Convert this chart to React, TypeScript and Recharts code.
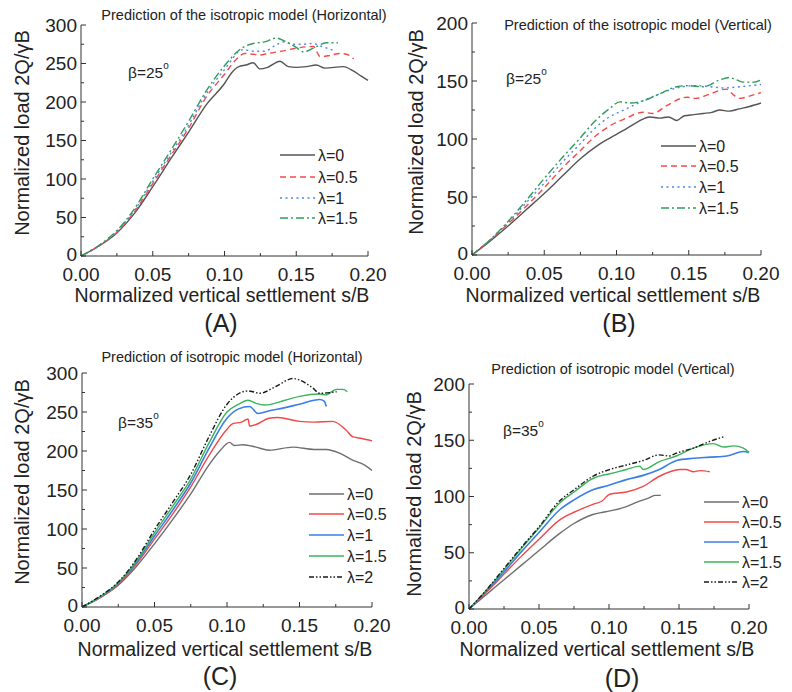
import React from "react";
import { LineChart, Line, XAxis, YAxis } from "recharts";

type Pt = [number, number];

// s/B values on x, normalized load 2Q/γB on y
const X_TICKS = [0, 0.025, 0.05, 0.075, 0.1, 0.125, 0.15, 0.175, 0.2];
const Y_TICKS_300 = [0, 25, 50, 75, 100, 125, 150, 175, 200, 225, 250, 275, 300];
const Y_TICKS_200 = [0, 25, 50, 75, 100, 125, 150, 175, 200];

// (A) horizontal, beta = 25
const A_L0: Pt[] = [[0,0],[0.0125,13],[0.025,30],[0.0375,56],[0.05,90],[0.0625,126],[0.075,161],[0.0875,197],[0.1,224],[0.105,238],[0.11,246],[0.115,248],[0.12,251],[0.1247,243],[0.13,245],[0.1387,253],[0.1445,246],[0.15,245],[0.157,246],[0.164,248],[0.17,244],[0.1828,246],[0.19,240],[0.195,234],[0.2,228]];
const A_L05: Pt[] = [[0,0],[0.0125,13],[0.025,31],[0.0375,58],[0.05,94],[0.0625,130],[0.075,166],[0.0875,207],[0.1,236],[0.108,255],[0.114,263],[0.12,262],[0.1247,261],[0.13,263],[0.14,266],[0.15,270],[0.162,272],[0.1666,259],[0.172,260],[0.1805,263],[0.185,262],[0.19,256]];
const A_L1: Pt[] = [[0,0],[0.0125,13],[0.025,32],[0.0375,60],[0.05,97],[0.0625,133],[0.075,170],[0.0875,211],[0.1,242],[0.113,268],[0.12,266],[0.128,266],[0.135,273],[0.141,278],[0.148,275],[0.155,275],[0.161,276],[0.168,272],[0.176,267]];
const A_L15: Pt[] = [[0,0],[0.0125,14],[0.025,33],[0.0375,62],[0.05,100],[0.0625,137],[0.075,175],[0.0875,215],[0.1,247],[0.112,270],[0.12,276],[0.128,278],[0.136,283],[0.142,279],[0.15,271],[0.155,265],[0.162,270],[0.171,277],[0.179,277]];

// (B) vertical, beta = 25
const B_L0: Pt[] = [[0,0],[0.0125,12],[0.025,25],[0.0375,39],[0.05,53],[0.0625,68],[0.075,83],[0.0875,95],[0.1,104],[0.107,109],[0.115,115],[0.123,119],[0.13,118],[0.136,119],[0.1416,116],[0.147,120],[0.1535,121],[0.16,122],[0.166,123],[0.1716,125],[0.178,124],[0.185,126],[0.192,128],[0.2,131]];
const B_L05: Pt[] = [[0,0],[0.0125,13],[0.025,27],[0.0375,42],[0.05,58],[0.0625,75],[0.075,90],[0.084,101],[0.095,111],[0.105,117],[0.1186,123],[0.125,122],[0.135,129],[0.1486,136],[0.155,135],[0.165,139],[0.176,143],[0.181,138],[0.185,135],[0.192,137],[0.2,140]];
const B_L1: Pt[] = [[0,0],[0.0125,13],[0.025,28],[0.0375,45],[0.05,62],[0.0625,80],[0.075,96],[0.084,108],[0.095,119],[0.105,125],[0.1186,133],[0.13,139],[0.1416,144],[0.1555,146],[0.165,145],[0.175,144],[0.185,145],[0.2,147]];
const B_L15: Pt[] = [[0,0],[0.0125,13],[0.025,29],[0.0375,47],[0.05,66],[0.0625,84],[0.075,101],[0.084,114],[0.095,126],[0.1024,132],[0.11,131],[0.1186,133],[0.13,139],[0.1416,145],[0.15,146],[0.16,145],[0.1716,151],[0.178,153],[0.183,151],[0.188,149],[0.195,149],[0.2,151]];

// (C) horizontal, beta = 35
const C_L0: Pt[] = [[0,0],[0.0125,12],[0.025,28],[0.0375,52],[0.05,81],[0.0625,112],[0.075,145],[0.0875,182],[0.095,200],[0.1018,211],[0.105,207],[0.111,208],[0.12,205],[0.129,201],[0.1455,205],[0.16,202],[0.1685,202],[0.178,197],[0.187,188],[0.195,182],[0.2,175]];
const C_L05: Pt[] = [[0,0],[0.0125,12],[0.025,29],[0.0375,55],[0.05,87],[0.0625,119],[0.075,154],[0.0875,194],[0.1,228],[0.104,235],[0.11,237],[0.1145,241],[0.1156,232],[0.12,234],[0.129,242],[0.135,243],[0.15,238],[0.16,237],[0.173,238],[0.182,227],[0.187,218],[0.193,216],[0.2,213]];
const C_L1: Pt[] = [[0,0],[0.0125,13],[0.025,30],[0.0375,57],[0.05,91],[0.0625,124],[0.075,159],[0.0875,203],[0.1,242],[0.108,254],[0.1156,257],[0.1214,248],[0.13,252],[0.1386,255],[0.15,260],[0.164,266],[0.167,264],[0.1685,257]];
const C_L15: Pt[] = [[0,0],[0.0125,13],[0.025,31],[0.0375,59],[0.05,95],[0.0625,129],[0.075,164],[0.0875,210],[0.1,250],[0.108,260],[0.1145,265],[0.12,261],[0.126,259],[0.14,265],[0.15,270],[0.164,273],[0.168,272],[0.1756,279],[0.18,279],[0.183,276]];
const C_L2: Pt[] = [[0,0],[0.0125,14],[0.025,32],[0.0375,61],[0.05,99],[0.0625,134],[0.075,170],[0.0875,218],[0.1,260],[0.104,268],[0.1145,277],[0.118,276],[0.1225,274],[0.134,283],[0.1455,293],[0.15,291],[0.159,281],[0.164,274],[0.1756,276]];

// (D) vertical, beta = 35
const D_L0: Pt[] = [[0,0],[0.0125,13],[0.025,26],[0.0375,39],[0.05,52],[0.0646,67],[0.075,76],[0.0885,84],[0.0957,86],[0.1,87],[0.1124,91],[0.12,95],[0.129,99],[0.133,101],[0.137,101]];
const D_L05: Pt[] = [[0,0],[0.0125,15],[0.025,31],[0.0375,47],[0.05,62],[0.0646,79],[0.075,86],[0.0885,93],[0.095,96],[0.1005,102],[0.1124,104],[0.1244,109],[0.136,118],[0.1507,124],[0.155,124],[0.1603,122],[0.165,123],[0.172,122]];
const D_L1: Pt[] = [[0,0],[0.0125,16],[0.025,33],[0.0375,51],[0.05,68],[0.0646,88],[0.075,97],[0.0885,106],[0.1,110],[0.1124,115],[0.125,119],[0.136,124],[0.1483,132],[0.16,134],[0.172,135],[0.1842,136],[0.1962,140],[0.2,139]];
const D_L15: Pt[] = [[0,0],[0.0125,17],[0.025,35],[0.0375,54],[0.05,72],[0.0646,94],[0.075,104],[0.0885,116],[0.0957,119],[0.1,120],[0.1124,124],[0.122,127],[0.1245,124],[0.136,131],[0.148,136],[0.1603,143],[0.1746,147],[0.1818,144],[0.189,145],[0.196,143],[0.2,139]];
const D_L2: Pt[] = [[0,0],[0.0125,17],[0.025,36],[0.0375,55],[0.05,73],[0.0646,96],[0.075,106],[0.0885,118],[0.1005,124],[0.1124,128],[0.1244,132],[0.136,137],[0.143,136],[0.148,138.5],[0.1603,143],[0.172,149],[0.1818,153]];

const FONT = "'Liberation Sans', Arial, sans-serif";
const AXIS = "#333";

type Series = { name: string; data: Pt[]; color: string; dash?: string; width?: number };

// dashed styles for the beta=25 panels, solid for the beta=35 panels
const styled25 = (l0: Pt[], l05: Pt[], l1: Pt[], l15: Pt[]): Series[] => [
  { name: "λ=0", data: l0, color: "#555" },
  { name: "λ=0.5", data: l05, color: "#f24b4b", dash: "6 4" },
  { name: "λ=1", data: l1, color: "#4a88ec", dash: "2 3.5" },
  { name: "λ=1.5", data: l15, color: "#2f9e58", dash: "8 3 2 3" },
];
const styled35 = (l0: Pt[], l05: Pt[], l1: Pt[], l15: Pt[], l2: Pt[]): Series[] => [
  { name: "λ=0", data: l0, color: "#6e6e6e" },
  { name: "λ=0.5", data: l05, color: "#f04848" },
  { name: "λ=1", data: l1, color: "#3a7ee6", width: 1.6 },
  { name: "λ=1.5", data: l15, color: "#3bb35a" },
  { name: "λ=2", data: l2, color: "#1a1a1a", dash: "5 2 1.5 2 1.5 2" },
];

type Panel = {
  key: string;
  x: number; y: number; w: number; h: number;
  margin: { top: number; right: number; bottom: number; left: number };
  yMax: number; yTicks: number[]; yMajor: number;
  series: Series[];
  title: string; titleX: number; titleY: number;
  yTitleX: number; yTitleY: number;
  xTitleX: number; xTitleY: number;
  letter: string; letterX: number; letterY: number;
  beta: string; betaX: number; betaY: number;
  legX: number; legRows: number[];
};

const PANELS: Panel[] = [
  {
    key: "A", x: 0, y: 0, w: 396, h: 346,
    margin: { top: 25, right: 28, bottom: 60, left: 41 },
    yMax: 300, yTicks: Y_TICKS_300, yMajor: 50,
    series: styled25(A_L0, A_L05, A_L1, A_L15),
    title: "Prediction of the isotropic model (Horizontal)", titleX: 244, titleY: 15,
    yTitleX: 22, yTitleY: 133, xTitleX: 222, xTitleY: 295,
    letter: "(A)", letterX: 221, letterY: 323,
    beta: "β=25", betaX: 128, betaY: 72,
    legX: 280, legRows: [155, 177, 198, 218],
  },
  {
    key: "B", x: 396, y: 0, w: 396, h: 346,
    margin: { top: 23, right: 31, bottom: 61, left: 36 },
    yMax: 200, yTicks: Y_TICKS_200, yMajor: 50,
    series: styled25(B_L0, B_L05, B_L1, B_L15),
    title: "Prediction of the isotropic model (Vertical)", titleX: 638, titleY: 25,
    yTitleX: 416, yTitleY: 132, xTitleX: 613, xTitleY: 295,
    letter: "(B)", letterX: 619, letterY: 323,
    beta: "β=25", betaX: 506, betaY: 78,
    legX: 661, legRows: [146, 166, 187, 208],
  },
  {
    key: "C", x: 0, y: 340, w: 396, h: 352,
    margin: { top: 33, right: 24, bottom: 55, left: 42 },
    yMax: 300, yTicks: Y_TICKS_300, yMajor: 50,
    series: styled35(C_L0, C_L05, C_L1, C_L15, C_L2),
    title: "Prediction of isotropic model (Horizontal)", titleX: 232, titleY: 357,
    yTitleX: 22, yTitleY: 482, xTitleX: 225, xTitleY: 649,
    letter: "(C)", letterX: 220, letterY: 676,
    beta: "β=35", betaX: 118, betaY: 422,
    legX: 309, legRows: [494, 514, 535, 556, 577],
  },
  {
    key: "D", x: 396, y: 340, w: 396, h: 352,
    margin: { top: 44, right: 43, bottom: 53, left: 33 },
    yMax: 200, yTicks: Y_TICKS_200, yMajor: 50,
    series: styled35(D_L0, D_L05, D_L1, D_L15, D_L2),
    title: "Prediction of isotropic model (Vertical)", titleX: 613, titleY: 369,
    yTitleX: 414, yTitleY: 494, xTitleX: 607, xTitleY: 649,
    letter: "(D)", letterX: 622, letterY: 678,
    beta: "β=35", betaX: 503, betaY: 430,
    legX: 704, legRows: [502, 522, 542, 562, 582],
  },
];

const isMultiple = (v: number, step: number) => Math.abs(v / step - Math.round(v / step)) < 1e-6;

const XTick = (props: any) => {
  const { x, y, payload } = props;
  const major = isMultiple(payload.value, 0.05);
  return (
    <g>
      <line x1={x} x2={x} y1={y} y2={y - (major ? 5 : 3)} stroke={AXIS} />
      {major && (
        <text x={x} y={y + 18} textAnchor="middle" dominantBaseline="central" fontSize={19} fontFamily={FONT} fill="#222">
          {payload.value.toFixed(2)}
        </text>
      )}
    </g>
  );
};

const makeYTick = (step: number) => (props: any) => {
  const { x, y, payload } = props;
  const major = isMultiple(payload.value, step);
  return (
    <g>
      <line x1={x} x2={x + (major ? 5 : 3)} y1={y} y2={y} stroke={AXIS} />
      {major && (
        <text x={x - 4} y={payload.value === 0 ? y - 2 : y} textAnchor="end" dominantBaseline="central" fontSize={19} fontFamily={FONT} fill="#222">
          {payload.value}
        </text>
      )}
    </g>
  );
};

function PanelChart({ p }: { p: Panel }) {
  const YTick = makeYTick(p.yMajor);
  return (
    <div style={{ position: "absolute", left: p.x, top: p.y }}>
      <LineChart width={p.w} height={p.h} margin={p.margin}>
        <XAxis
          dataKey="s"
          type="number"
          domain={[0, 0.2]}
          ticks={X_TICKS}
          interval={0}
          tickLine={false}
          tickSize={0}
          tickMargin={0}
          height={30}
          axisLine={{ stroke: AXIS }}
          tick={<XTick />}
        />
        <YAxis
          type="number"
          domain={[0, p.yMax]}
          ticks={p.yTicks}
          interval={0}
          tickLine={false}
          tickSize={0}
          tickMargin={0}
          width={40}
          axisLine={{ stroke: AXIS }}
          tick={<YTick />}
        />
        {p.series.map((s) => (
          <Line
            key={s.name}
            data={s.data.map(([sv, v]) => ({ s: sv, v }))}
            dataKey="v"
            type="monotone"
            stroke={s.color}
            strokeWidth={s.width ?? 1.4}
            strokeDasharray={s.dash}
            dot={false}
            isAnimationActive={false}
          />
        ))}
      </LineChart>
    </div>
  );
}

function PanelText({ p }: { p: Panel }) {
  return (
    <g fontFamily={FONT} fill="#222">
      <text x={p.titleX} y={p.titleY} textAnchor="middle" dominantBaseline="central" fontSize={14.5}>
        {p.title}
      </text>
      <text
        x={p.yTitleX}
        y={p.yTitleY}
        textAnchor="middle"
        dominantBaseline="central"
        fontSize={20}
        transform={`rotate(-90 ${p.yTitleX} ${p.yTitleY})`}
      >
        Normalized load 2Q/γB
      </text>
      <text x={p.xTitleX} y={p.xTitleY} textAnchor="middle" dominantBaseline="central" fontSize={19.5}>
        Normalized vertical settlement s/B
      </text>
      <text x={p.letterX} y={p.letterY} textAnchor="middle" dominantBaseline="central" fontSize={25}>
        {p.letter}
      </text>
      <text x={p.betaX} y={p.betaY} dominantBaseline="central" fontSize={15.5}>
        {p.beta}
        <tspan fontSize={10} dy={-7}>o</tspan>
      </text>
      {p.series.map((s, i) => (
        <g key={s.name}>
          <line
            x1={p.legX}
            x2={p.legX + 35}
            y1={p.legRows[i]}
            y2={p.legRows[i]}
            stroke={s.color}
            strokeWidth={s.width ?? 1.4}
            strokeDasharray={s.dash}
          />
          <text x={p.legX + 38} y={p.legRows[i]} dominantBaseline="central" fontSize={16}>
            {s.name}
          </text>
        </g>
      ))}
    </g>
  );
}

export default function App() {
  return (
    <div style={{ position: "absolute", left: 0, top: 0, width: 792, height: 692, background: "#fff" }}>
      {PANELS.map((p) => (
        <PanelChart key={p.key} p={p} />
      ))}
      <svg
        width={792}
        height={692}
        style={{ position: "absolute", left: 0, top: 0, pointerEvents: "none" }}
      >
        {PANELS.map((p) => (
          <PanelText key={p.key} p={p} />
        ))}
      </svg>
    </div>
  );
}
